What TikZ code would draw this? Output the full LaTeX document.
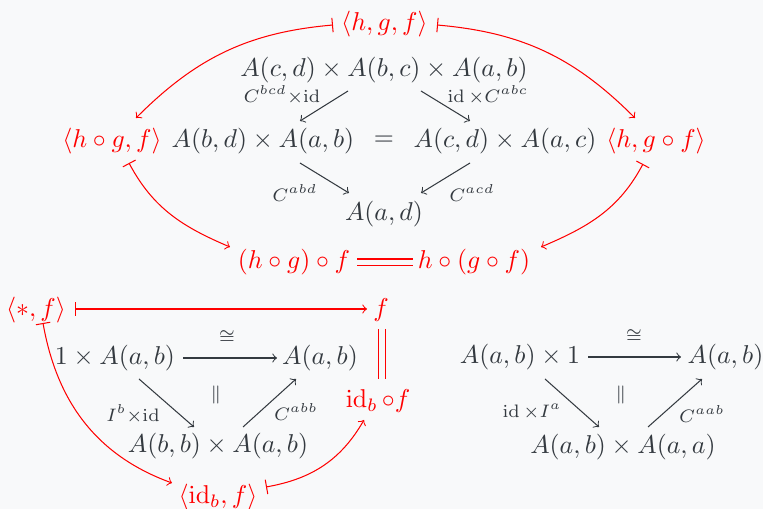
\documentclass[tikz,border=0pt]{standalone}
\usepackage{amsmath,amssymb}
\usetikzlibrary{calc}
\definecolor{bg}{RGB}{248,249,250}
\definecolor{ink}{RGB}{52,58,64}
\definecolor{hl}{RGB}{255,0,0}
\begin{document}
\begin{tikzpicture}[x=0.3876pt,y=0.3876pt,>=to,
  ob/.style={text=ink},
  rob/.style={text=hl},
  lb/.style={text=ink},
  ar/.style={draw=ink,->},
  rar/.style={draw=hl,|->},
  req/.style={draw=hl,double=bg,double distance=2.3pt}]
\fill[bg] (0,0) rectangle (763,-509);
\useasboundingbox (0,0) rectangle (763,-509);
% top diagram
\node[rob] (hgf) at (384.5,-24) {$\langle h,g,f\rangle$};
\node[ob] (top3) at (384,-70) {$A(c,d)\times A(b,c)\times A(a,b)$};
\node[rob] (hogf) at (112,-141) {$\langle h\circ g,f\rangle$};
\node[ob] (bdab) at (263,-141) {$A(b,d)\times A(a,b)$};
\node[ob] (eq) at (384,-141) {$=$};
\node[ob] (cdac) at (505,-141) {$A(c,d)\times A(a,c)$};
\node[rob] (hgof) at (656,-141) {$\langle h,g\circ f\rangle$};
\node[ob] (ad) at (384,-214) {$A(a,d)$};
\node[rob] (hogof) at (294,-262) {$(h\circ g)\circ f$};
\node[rob] (hogofb) at (474,-262) {$h\circ (g\circ f)$};
\node[lb] (l1) at (282,-95) {$\scriptstyle C^{bcd}\times\operatorname{id}$};
\node[lb] (l2) at (488,-95) {$\scriptstyle \operatorname{id}\times C^{abc}$};
\node[lb] (l3) at (295,-193) {$\scriptstyle C^{abd}$};
\node[lb] (l4) at (472,-193) {$\scriptstyle C^{acd}$};
\draw[ar] ($(top3)+(-36,-21)$) -- ($(bdab)+(37,20)$);
\draw[ar] ($(top3)+(37,-21)$) -- ($(cdac)+(-35,20)$);
\draw[ar] ($(bdab)+(37,-22)$) -- ($(ad)+(-35,21)$);
\draw[ar] ($(cdac)+(-35,-22)$) -- ($(ad)+(37,21)$);
\draw[rar] ($(hgf)+(-51.5,-1)$) to[out=185,in=45] ($(hogf)+(24,23)$);
\draw[rar] ($(hgf)+(52.5,-1)$) to[out=-5,in=135] ($(hgof)+(-21,23)$);
\draw[rar] ($(hogf)+(17,-22)$) to[out=-62,in=157] ($(hogof)+(-64,15)$);
\draw[rar] ($(hgof)+(-13,-23)$) to[out=242,in=23] ($(hogofb)+(67,15)$);
\draw[req] ($(hogof)+(63,-0.5)$) -- ($(hogofb)+(-61,-0.5)$);
% lower left
\node[rob] (sf) at (36,-310) {$\langle *,f\rangle$};
\node[rob] (f) at (381,-310) {$f$};
\node[ob] (oab) at (115,-358) {$1\times A(a,b)$};
\node[ob] (ab) at (320,-358) {$A(a,b)$};
\node[rob] (idf) at (378,-401) {$\operatorname{id}_b\circ f$};
\node[ob] (bbab) at (218,-446) {$A(b,b)\times A(a,b)$};
\node[rob] (idbf) at (218,-497) {$\langle \operatorname{id}_b,f\rangle$};
\node[lb] (c1) at (227,-337) {$\scriptstyle\cong$};
\node[lb] (p1) at (216,-395) {$\scriptstyle\Vert$};
\node[lb] (l5) at (133,-414) {$\scriptstyle I^b\times\operatorname{id}$};
\node[lb] (l6) at (296,-412) {$\scriptstyle C^{abb}$};
\draw[ar] ($(oab)+(68,0)$) -- ($(ab)+(-43,0)$);
\draw[ar] ($(oab)+(24,-21)$) -- ($(bbab)+(-24,19)$);
\draw[ar] ($(bbab)+(25,19)$) -- ($(ab)+(-24,-21)$);
\draw[rar] ($(sf)+(39,1)$) -- ($(f)+(-14,1)$);
\draw[req,double distance=2.6pt] ($(f)+(1,-19)$) -- ($(idf)+(4,22)$);
\draw[rar] ($(sf)+(7,-13)$) to[out=-80,in=160] ($(idbf)+(-46,14)$);
\draw[rar] ($(idbf)+(48,10)$) to[out=10,in=240] ($(idf)+(-14,-19)$);
% lower right
\node[ob] (abo) at (520,-357) {$A(a,b)\times 1$};
\node[ob] (abr) at (725.5,-357) {$A(a,b)$};
\node[ob] (abaa) at (623,-447) {$A(a,b)\times A(a,a)$};
\node[lb] (c2) at (634,-336) {$\scriptstyle\cong$};
\node[lb] (p2) at (621,-395) {$\scriptstyle\Vert$};
\node[lb] (l7) at (532,-412) {$\scriptstyle \operatorname{id}\times I^a$};
\node[lb] (l8) at (702,-414) {$\scriptstyle C^{aab}$};
\draw[ar] ($(abo)+(68,0)$) -- ($(abr)+(-44.5,0)$);
\draw[ar] ($(abo)+(25,-22)$) -- ($(abaa)+(-24,20)$);
\draw[ar] ($(abaa)+(25,20)$) -- ($(abr)+(-23.5,-22)$);
\end{tikzpicture}
\end{document}
